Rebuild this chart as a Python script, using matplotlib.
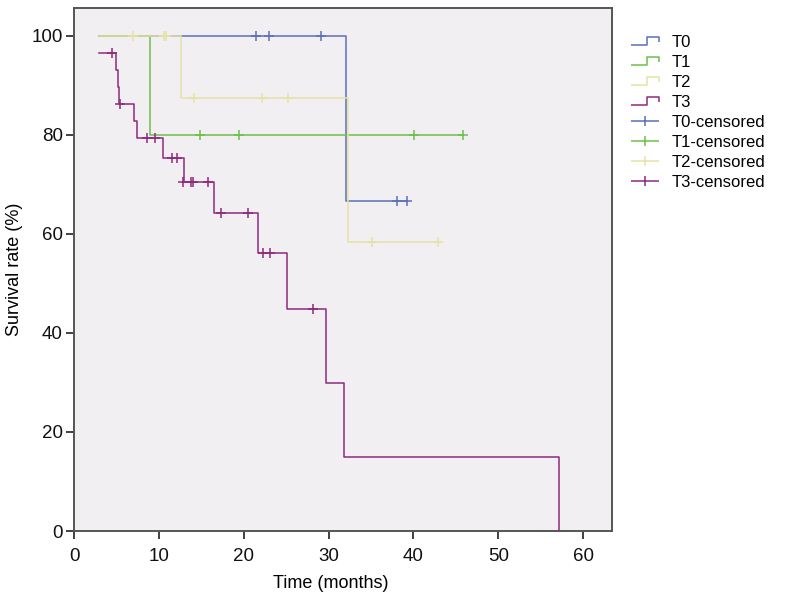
import matplotlib
matplotlib.use("Agg")
import matplotlib.pyplot as plt
from matplotlib.lines import Line2D
from matplotlib.path import Path

plt.rcParams["font.family"] = ["Liberation Sans", "DejaVu Sans"]

GROUPS = ["T0", "T1", "T2", "T3"]
COLORS = {"T0": "#5b6fbb", "T1": "#6cc04a", "T2": "#e4e3a4", "T3": "#8e2a7c"}

# Kaplan-Meier step curves (time in months, survival in %)
T0_TIME = [3.0, 32.1, 39.2]
T0_SURV = [100.0, 66.7, 66.7]
T1_TIME = [3.0, 9.0, 45.9]
T1_SURV = [100.0, 80.0, 80.0]
T2_TIME = [3.0, 12.6, 32.3, 42.9]
T2_SURV = [100.0, 87.5, 58.3, 58.3]
T3_TIME = [3.0, 5.0, 5.15, 5.3, 7.1, 7.4, 10.5, 13.0, 16.5, 21.7, 25.1, 29.7, 31.8, 57.2]
T3_SURV = [96.6, 93.1, 89.7, 86.2, 82.8, 79.3, 75.4, 70.5, 64.2, 56.1, 44.9, 29.9, 15.0, 0.0]

# censored observations
T0_CENS_TIME = [21.4, 23.0, 29.1, 38.1, 39.2]
T0_CENS_SURV = [100.0, 100.0, 100.0, 66.7, 66.7]
T1_CENS_TIME = [14.9, 19.5, 40.1, 45.9]
T1_CENS_SURV = [80.0, 80.0, 80.0, 80.0]
T2_CENS_TIME = [6.9, 10.6, 10.8, 14.1, 22.1, 25.2, 35.1, 42.9]
T2_CENS_SURV = [100.0, 100.0, 100.0, 87.5, 87.5, 87.5, 58.3, 58.3]
T3_CENS_TIME = [4.5, 5.4, 8.6, 9.5, 11.5, 12.1, 12.9, 13.8, 14.0, 15.8, 17.3, 20.5, 22.3, 23.1, 28.2]
T3_CENS_SURV = [96.6, 86.2, 79.3, 79.3, 75.4, 75.4, 70.5, 70.5, 70.5, 70.5, 64.2, 64.2, 56.1, 56.1, 44.9]

X_TICKS = [0, 10, 20, 30, 40, 50, 60]
Y_TICKS = [0, 20, 40, 60, 80, 100]

curves = {
    "T0": (T0_TIME, T0_SURV, T0_CENS_TIME, T0_CENS_SURV),
    "T1": (T1_TIME, T1_SURV, T1_CENS_TIME, T1_CENS_SURV),
    "T2": (T2_TIME, T2_SURV, T2_CENS_TIME, T2_CENS_SURV),
    "T3": (T3_TIME, T3_SURV, T3_CENS_TIME, T3_CENS_SURV),
}

fig = plt.figure(figsize=(7.86, 6.05), dpi=100)
ax = fig.add_axes([74 / 786, 1 - 531 / 605, (612 - 74) / 786, (531 - 8) / 605])
ax.set_facecolor("#f1eff1")

for name in GROUPS:
    t, s, ct, cs = curves[name]
    ax.step(t, s, where="post", color=COLORS[name], linewidth=1.1, zorder=3)
    ax.plot(ct, cs, linestyle="none", marker="+", markersize=7.5,
            markeredgewidth=1.1, color=COLORS[name], zorder=4)

ax.set_xlim(0, 63.4)
ax.set_ylim(0, 105.6)
ax.set_xticks(X_TICKS)
ax.set_yticks(Y_TICKS)
ax.tick_params(axis="both", labelsize=13.5, length=6, width=1.3,
               color="#333333", labelcolor="#111111", direction="out")
ax.tick_params(axis="x", pad=6)
ax.tick_params(axis="y", pad=2)
for sp in ax.spines.values():
    sp.set_color("#555555")
    sp.set_linewidth(1.4)

ax.set_xlabel("Time (months)", fontsize=13, labelpad=12)
ax.xaxis.set_label_coords((331 - 74) / (612 - 74), -0.085)
ax.set_ylabel("Survival rate (%)", fontsize=13, labelpad=6)

# legend icons: step shape for curves, wide cross for censored marks
step_icon = Path([(-1.0, -0.3), (0.15, -0.3), (0.15, 0.3), (1.0, 0.3), (1.0, -0.05)],
                 [Path.MOVETO, Path.LINETO, Path.LINETO, Path.LINETO, Path.LINETO])
cross_icon = Path([(-1.0, 0.0), (1.0, 0.0), (0.0, -0.38), (0.0, 0.38)],
                  [Path.MOVETO, Path.LINETO, Path.MOVETO, Path.LINETO])

handles = []
labels = []
for name in GROUPS:
    handles.append(Line2D([], [], linestyle="none", marker=step_icon, markersize=20,
                          markerfacecolor="none", markeredgecolor=COLORS[name],
                          markeredgewidth=1.1))
    labels.append(name)
for name in GROUPS:
    handles.append(Line2D([], [], linestyle="none", marker=cross_icon, markersize=20,
                          markerfacecolor="none", markeredgecolor=COLORS[name],
                          markeredgewidth=1.1))
    labels.append(name + "-censored")

fig.legend(handles, labels, loc="upper left", bbox_to_anchor=(625 / 786, 1 - 28 / 605),
           frameon=False, fontsize=12, handlelength=1.6, handletextpad=0.8,
           labelspacing=0.3, borderaxespad=0)

fig.savefig("out.png", dpi=100, facecolor="white")
